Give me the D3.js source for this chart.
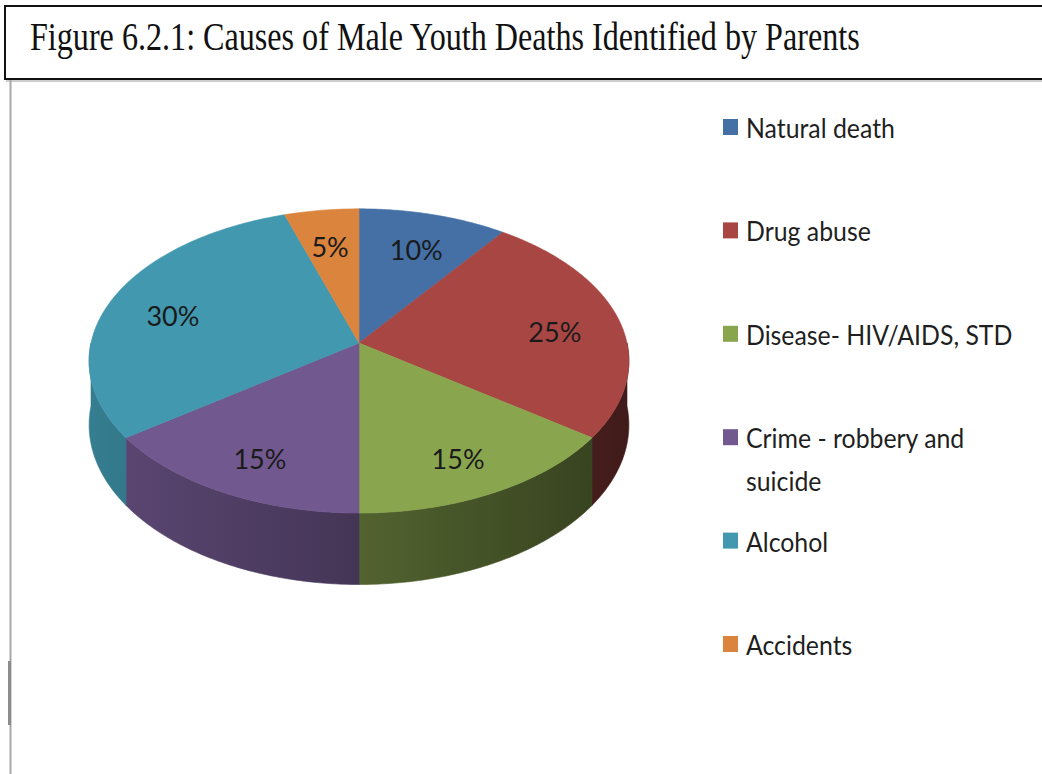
<!DOCTYPE html>
<html>
<head>
<meta charset="utf-8">
<script src="https://cdn.jsdelivr.net/npm/d3@7"></script>
<style>
  html, body { margin: 0; padding: 0; background: #fff; }
  svg { display: block; }
</style>
</head>
<body>
<div id="chart"></div>
<script>
// Causes of male youth deaths — 3D-looking pie drawn with d3.pie + a small perspective projection
const titleText = "Figure 6.2.1: Causes of Male Youth Deaths Identified by Parents";
const causes = ["Natural death", "Drug abuse", "Disease- HIV/AIDS, STD", "Crime - robbery and suicide", "Alcohol", "Accidents"];
const shares = [10, 25, 15, 15, 30, 5];
const sliceColors = ["#4470a6", "#a84644", "#89a54e", "#71588f", "#4198af", "#db843d"];
// legend lines (Crime wraps onto two lines like the original)
const legendLines = [["Natural death"], ["Drug abuse"], ["Disease- HIV/AIDS, STD"], ["Crime - robbery and", "suicide"], ["Alcohol"], ["Accidents"]];

const width = 1042, height = 774;

const svg = d3.select("#chart").append("svg")
  .attr("width", width)
  .attr("height", height);

// frame: title box + grey left rule
svg.append("rect")
  .attr("x", 5).attr("y", 6)
  .attr("width", 1039).attr("height", 73)
  .attr("fill", "none")
  .attr("stroke", "#111")
  .attr("stroke-width", 2);
svg.append("line")
  .attr("x1", 6).attr("x2", 1042).attr("y1", 81).attr("y2", 81)
  .attr("stroke", "#9a9a9a").attr("stroke-width", 1);
svg.append("line")
  .attr("x1", 10.5).attr("x2", 10.5).attr("y1", 80).attr("y2", height)
  .attr("stroke", "#a8a8a8").attr("stroke-width", 2);
svg.append("rect")
  .attr("x", 8).attr("y", 661).attr("width", 3).attr("height", 64)
  .attr("fill", "#8c8c8c");

// title, squeezed horizontally to the narrow width of the original scan
const title = svg.append("text")
  .attr("font-family", "'Liberation Serif', 'Times New Roman', serif")
  .attr("font-size", 40)
  .attr("fill", "#111")
  .text(titleText);
const titleLen = title.node().getComputedTextLength();
title.attr("transform", `translate(30,50) scale(${830 / titleLen},1)`);

// perspective projection of the pie disc
const CX = 359, CY = 343;     // centre of the top face
const RX = 268, RY = 150;     // half width / half depth
const K = 0.118;              // perspective strength (far side smaller)
const DEPTH = 63;             // thickness of the disc

function proj(theta, r, drop) {
  const u = r * Math.sin(theta);
  const w = r * Math.cos(theta);
  const f = 1 / (1 + K * w);
  return [CX + RX * u * f, CY - RY * w * f + drop * f];
}

function arcPoints(a0, a1, drop) {
  const n = Math.max(2, Math.ceil((a1 - a0) / 0.01));
  return d3.range(n + 1).map(i => proj(a0 + (a1 - a0) * i / n, 1, drop));
}

const color = d3.scaleOrdinal().domain(causes).range(sliceColors);

const pie = d3.pie().sort(null).value(d => d.value).startAngle(0).endAngle(2 * Math.PI);
const arcs = pie(causes.map((c, i) => ({ name: c, value: shares[i] })));

const line = d3.line();
const defs = svg.append("defs");

function shade(c, k) {
  const col = d3.rgb(c);
  return d3.rgb(col.r * k, col.g * k, col.b * k).formatHex();
}

// side walls for the near half of the disc
const sides = svg.append("g");
arcs.forEach((a, i) => {
  const s0 = Math.max(a.startAngle, Math.PI / 2);
  const s1 = Math.min(a.endAngle, 3 * Math.PI / 2);
  if (s1 <= s0) return;
  const gid = "side-" + i;
  const grad = defs.append("linearGradient")
    .attr("id", gid)
    .attr("gradientUnits", "userSpaceOnUse")
    .attr("x1", CX - RX).attr("x2", CX + RX).attr("y1", 0).attr("y2", 0);
  grad.append("stop").attr("offset", 0).attr("stop-color", shade(color(a.data.name), 0.82));
  grad.append("stop").attr("offset", 0.5).attr("stop-color", shade(color(a.data.name), 0.6));
  grad.append("stop").attr("offset", 1).attr("stop-color", shade(color(a.data.name), 0.38));
  const pts = arcPoints(s0, s1, 0).concat(arcPoints(s0, s1, DEPTH).reverse());
  sides.append("path")
    .attr("d", line(pts) + "Z")
    .attr("fill", `url(#${gid})`)
    .attr("stroke", `url(#${gid})`)
    .attr("stroke-width", 0.6);
});

// top faces
const tops = svg.append("g");
arcs.forEach(a => {
  const pts = [[CX, CY]].concat(arcPoints(a.startAngle, a.endAngle, 0));
  tops.append("path")
    .attr("d", line(pts) + "Z")
    .attr("fill", color(a.data.name))
    .attr("stroke", color(a.data.name))
    .attr("stroke-width", 0.6);
});

// percentage labels
const labelR = 0.75;
svg.append("g").selectAll("text")
  .data(arcs)
  .join("text")
  .each(function (a) {
    const mid = (a.startAngle + a.endAngle) / 2;
    const p = proj(mid, labelR, 7);
    d3.select(this).attr("x", p[0]).attr("y", p[1]);
  })
  .attr("dy", "0.36em")
  .attr("text-anchor", "middle")
  .attr("font-family", "Lato, 'Open Sans', sans-serif")
  .attr("font-size", 27)
  .attr("fill", "#1a1a1a")
  .text(a => a.data.value + "%");

// legend
const legendY = d3.scalePoint().domain(causes).range([128, 645]);
const legend = svg.append("g");
causes.forEach((c, i) => {
  const y = legendY(c);
  legend.append("rect")
    .attr("x", 723).attr("y", y - 9)
    .attr("width", 15).attr("height", 16)
    .attr("fill", color(c));
  legendLines[i].forEach((ln, j) => {
    const t = legend.append("text")
      .attr("x", 746).attr("y", y + 10 + j * 43)
      .attr("font-family", "Lato, 'Open Sans', sans-serif")
      .attr("font-size", 27)
      .attr("fill", "#1f1f1f")
      .text(ln);
    // Calibri-like narrower set
    const len = t.node().getComputedTextLength();
    t.attr("textLength", len * 0.92).attr("lengthAdjust", "spacingAndGlyphs");
  });
});
</script>
</body>
</html>
